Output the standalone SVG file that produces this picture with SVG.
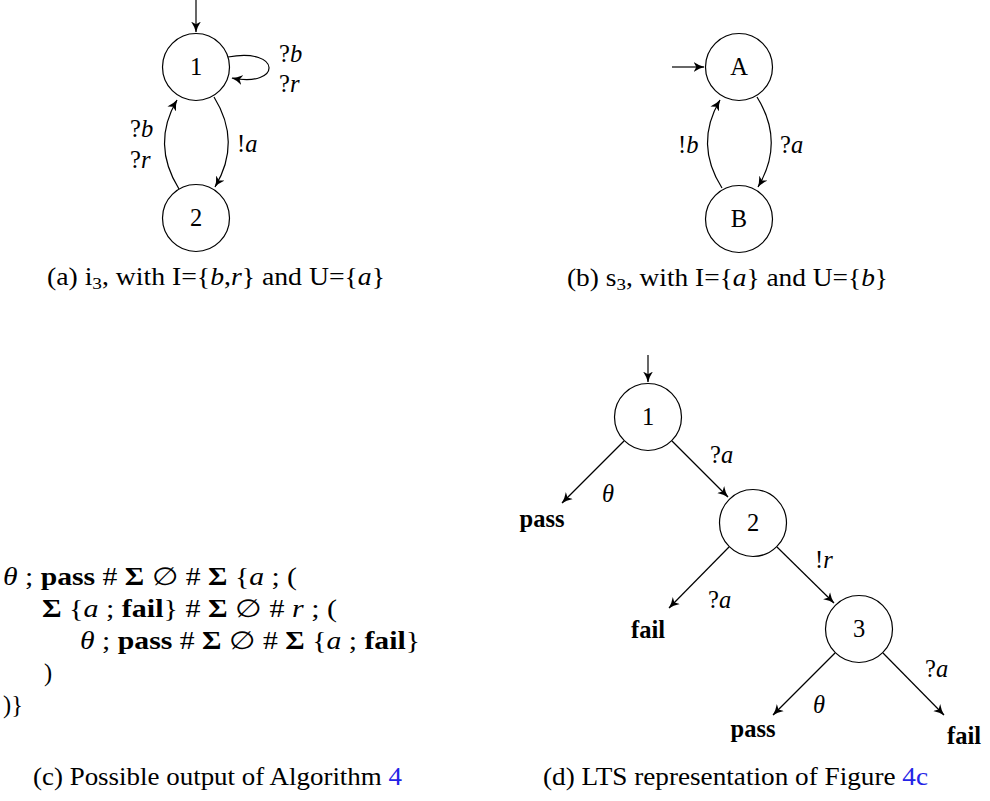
<svg xmlns="http://www.w3.org/2000/svg" width="990" height="801" viewBox="0 0 990 801">
<style>
  text { font-family: "Liberation Serif", "DejaVu Serif", serif; font-size: 24.5px; fill: #000; }
  .c { text-anchor: middle; }
  .i { font-style: italic; }
  .b { font-weight: bold; }
  .node { fill: #fff; stroke: #000; stroke-width: 1.2; }
  .edge { fill: none; stroke: #000; stroke-width: 1.2; marker-end: url(#arr); }
  .link { fill: #2424e6; }
</style>
<defs>
  <marker id="arr" viewBox="0 0 10 10" refX="9.5" refY="5" markerWidth="11" markerHeight="11" markerUnits="userSpaceOnUse" orient="auto">
    <path d="M0,0.5 Q5,4 10,5 Q5,6 0,9.5 L2.5,5 z" fill="#000"/>
  </marker>
</defs>
<rect width="990" height="801" fill="#fff"/>

<g id="connectors">
  <path class="edge" d="M196,0 L196,32"/>
  <path class="edge" d="M228,57 C282,47 282,88 232,78"/>
  <path class="edge" d="M214,97 Q242,142 215,187"/>
  <path class="edge" d="M179,189 Q151,144 177,100"/>
  <path class="edge" d="M672,67 L704,67"/>
  <path class="edge" d="M757,97 Q785,142 758,187"/>
  <path class="edge" d="M722,188 Q694,144 720,100"/>
  <path class="edge" d="M648,355 L648,382"/>
  <path class="edge" d="M624,441 L562,503"/>
  <path class="edge" d="M672,441 L728,497"/>
  <path class="edge" d="M729,547 L669,608"/>
  <path class="edge" d="M777,547 L834,603"/>
  <path class="edge" d="M835,653 L773,715"/>
  <path class="edge" d="M883,653 L944,715"/>
</g>

<!-- (a) -->
<g id="a1"><circle class="node" cx="196" cy="67" r="33.5"/><text class="c" x="196" y="75">1</text></g>
<g id="a2"><circle class="node" cx="196" cy="218" r="33.5"/><text class="c" x="196" y="226">2</text></g>
<g id="a-labels">
  <text x="279" y="62">?<tspan class="i">b</tspan></text>
  <text x="279" y="92">?<tspan class="i">r</tspan></text>
  <text x="237" y="152">!<tspan class="i">a</tspan></text>
  <text x="130" y="137">?<tspan class="i">b</tspan></text>
  <text x="130" y="168">?<tspan class="i">r</tspan></text>
</g>
<text id="cap-a" x="47" y="285" textLength="338" lengthAdjust="spacingAndGlyphs">(a) i<tspan font-size="17" dy="4">3</tspan><tspan dy="-4">, with I={</tspan><tspan class="i">b</tspan>,<tspan class="i">r</tspan>} and U={<tspan class="i">a</tspan>}</text>

<!-- (b) -->
<g id="bA"><circle class="node" cx="739" cy="67" r="33.5"/><text class="c" x="739" y="75">A</text></g>
<g id="bB"><circle class="node" cx="739" cy="219" r="33.5"/><text class="c" x="739" y="227">B</text></g>
<g id="b-labels">
  <text x="678" y="153">!<tspan class="i">b</tspan></text>
  <text x="780" y="153">?<tspan class="i">a</tspan></text>
</g>
<text id="cap-b" x="567" y="286" textLength="321" lengthAdjust="spacingAndGlyphs">(b) s<tspan font-size="17" dy="4">3</tspan><tspan dy="-4">, with I={</tspan><tspan class="i">a</tspan>} and U={<tspan class="i">b</tspan>}</text>

<!-- (c) -->
<g id="code">
  <text x="3" y="585" textLength="294" lengthAdjust="spacingAndGlyphs"><tspan class="i">θ</tspan> ; <tspan class="b">pass</tspan> # <tspan class="b">Σ</tspan> ∅ # <tspan class="b">Σ</tspan> {<tspan class="i">a</tspan> ; (</text>
  <text x="42" y="617" textLength="295" lengthAdjust="spacingAndGlyphs"><tspan class="b">Σ</tspan> {<tspan class="i">a</tspan> ; <tspan class="b">fail</tspan>} # <tspan class="b">Σ</tspan> ∅ # <tspan class="i">r</tspan> ; (</text>
  <text x="80" y="649" textLength="340" lengthAdjust="spacingAndGlyphs"><tspan class="i">θ</tspan> ; <tspan class="b">pass</tspan> # <tspan class="b">Σ</tspan> ∅ # <tspan class="b">Σ</tspan> {<tspan class="i">a</tspan> ; <tspan class="b">fail</tspan>}</text>
  <text x="44" y="681">)</text>
  <text x="3" y="713">)}</text>
</g>
<text id="cap-c" x="33" y="785" textLength="369" lengthAdjust="spacingAndGlyphs">(c) Possible output of Algorithm <tspan class="link">4</tspan></text>

<!-- (d) -->
<g id="d1"><circle class="node" cx="648" cy="417" r="33.5"/><text class="c" x="648" y="425">1</text></g>
<g id="d2"><circle class="node" cx="753" cy="523" r="33.5"/><text class="c" x="753" y="531">2</text></g>
<g id="d3"><circle class="node" cx="859" cy="629" r="33.5"/><text class="c" x="859" y="637">3</text></g>
<g id="dpass1"><text class="c b" x="542" y="527">pass</text></g>
<g id="dfail2"><text class="c b" x="648" y="638">fail</text></g>
<g id="dpass3"><text class="c b" x="753" y="737">pass</text></g>
<g id="dfail3"><text class="c b" x="964" y="744">fail</text></g>
<g id="d-labels">
  <text class="i" x="602" y="502">θ</text>
  <text x="710" y="463">?<tspan class="i">a</tspan></text>
  <text x="708" y="608">?<tspan class="i">a</tspan></text>
  <text x="815" y="568">!<tspan class="i">r</tspan></text>
  <text class="i" x="813" y="713">θ</text>
  <text x="925" y="677">?<tspan class="i">a</tspan></text>
</g>
<text id="cap-d" x="543" y="785" textLength="385" lengthAdjust="spacingAndGlyphs">(d) LTS representation of Figure <tspan class="link">4c</tspan></text>
</svg>
